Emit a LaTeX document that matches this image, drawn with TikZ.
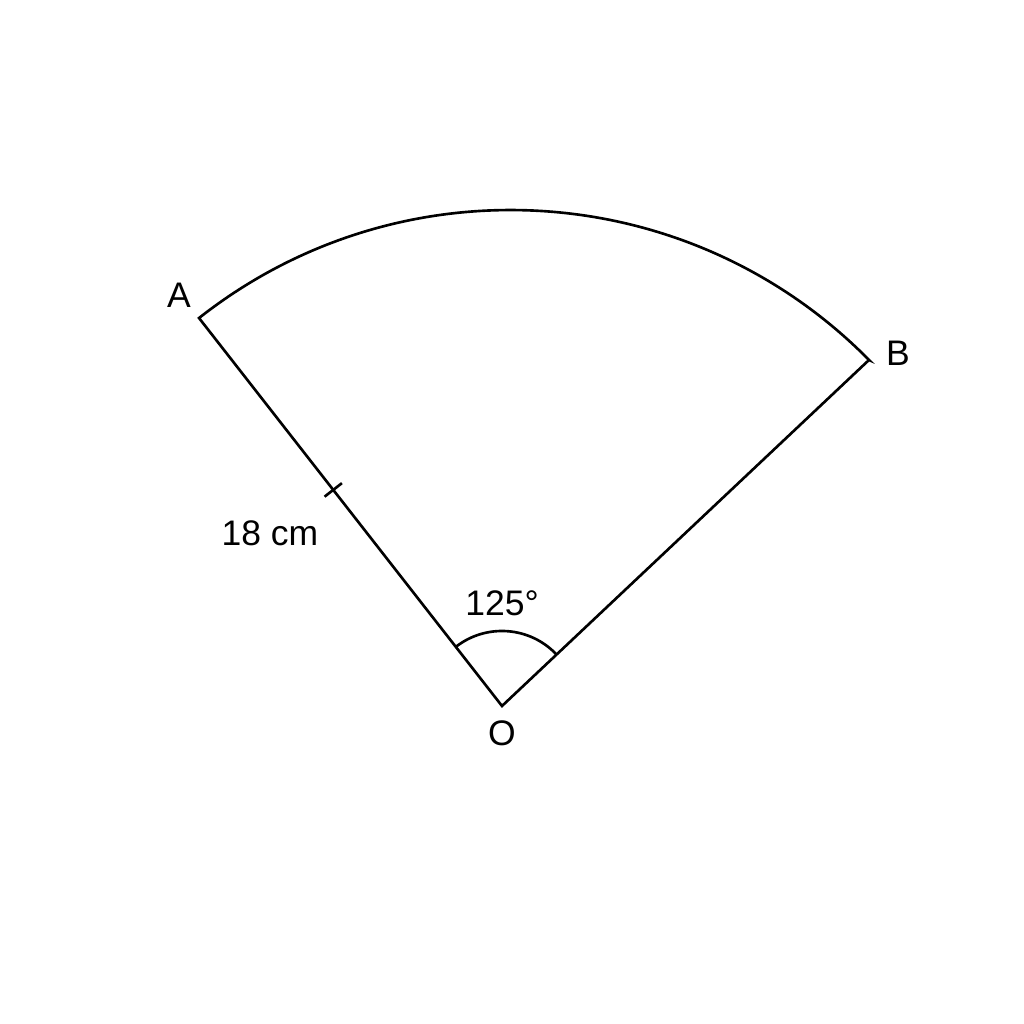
\documentclass[tikz,border=0pt]{standalone}
\usepackage{fontspec}
\setmainfont{Liberation Sans}
\usetikzlibrary{calc}
\tikzstyle{side} = [draw,line width=0.75pt,line join=miter]
\tikzstyle{anglemark} = [draw,line width=0.75pt]
\tikzstyle{label} = [font=\fontsize{10.1}{12}\selectfont,inner sep=0pt]

\begin{document}
\begin{tikzpicture}[scale=1]
    \useasboundingbox[fill=white] (0,0) rectangle (10.24,10.24);

    \coordinate (O) at (5.02,3.18);
    \coordinate (C) at (5.106,3.106);
    \coordinate (A) at ($(C)+(128.24:5.034)$);
    \coordinate (B) at ($(C)+(44.6:5.034)$);

    % sector
    \path[side] (B) -- (O) -- (A) arc[start angle=128.24, end angle=44.6, radius=5.034] -- cycle;

    % angle at O
    \path[anglemark] ($(O)!0.75cm!(B)$) arc[start angle=43.3, end angle=128, radius=0.75];

    % tick on OA
    \coordinate (T) at ($(A)!0.443!(O)$);
    \path[anglemark] ($(T)!0.11cm!90:(O)$) -- ($(T)!0.11cm!-90:(O)$);

    \foreach \pos/ \name/ \text in {{(1.79,7.29)/labA/A}, {(8.98,6.71)/labB/B}, {(5.02,2.91)/labO/O},
        {(5.02,4.21)/labAngle/125°}, {(2.70,4.91)/labSide/18 cm}}
        \node[label] (\name) at \pos {\text};

\end{tikzpicture}
\end{document}
